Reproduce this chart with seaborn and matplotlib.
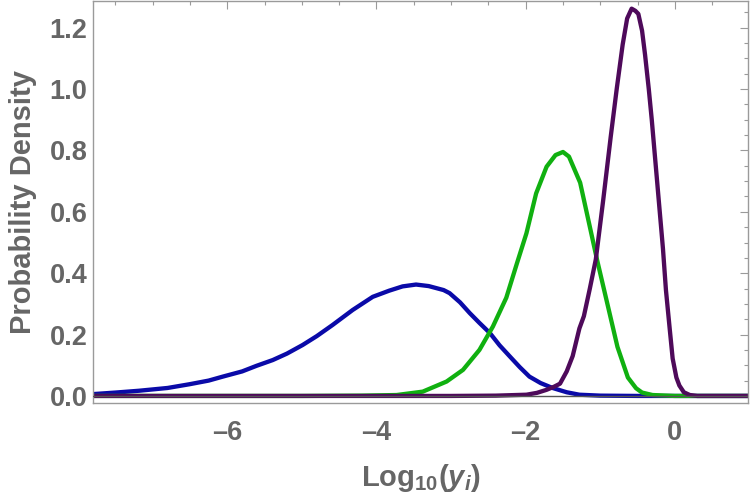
import numpy as np
import pandas as pd
import matplotlib
matplotlib.use("Agg")
import matplotlib.pyplot as plt
from matplotlib.ticker import MultipleLocator
import seaborn as sns

# ---- data ----
blue_x = [-7.8, -7.5, -7.18, -6.8, -6.51, -6.25, -6.06, -5.8, -5.61, -5.39, -5.2, -4.99,
          -4.8, -4.59, -4.32, -4.05, -3.83, -3.65, -3.47, -3.3, -3.1, -3.02, -2.88, -2.75,
          -2.62, -2.48, -2.35, -2.21, -2.08, -1.95, -1.8, -1.64, -1.45, -1.28, -1.0, -0.5,
          0.0, 1.0]
blue_y = [0.006, 0.011, 0.017, 0.026, 0.038, 0.050, 0.063, 0.080, 0.098, 0.117, 0.138, 0.166,
          0.195, 0.231, 0.280, 0.323, 0.343, 0.357, 0.363, 0.358, 0.345, 0.335, 0.305, 0.270,
          0.238, 0.205, 0.165, 0.128, 0.094, 0.063, 0.042, 0.026, 0.012, 0.004, 0.001, 0.0,
          0.0, 0.0]

green_x = [-7.8, -5.0, -4.2, -3.73, -3.38, -3.06, -2.84, -2.62, -2.44, -2.26, -2.12, -1.99,
           -1.86, -1.72, -1.6, -1.5, -1.42, -1.27, -1.13, -1.04, -0.90, -0.77, -0.63, -0.52,
           -0.44, -0.3, 0.0, 1.0]
green_y = [0.0, 0.0, 0.001, 0.003, 0.014, 0.047, 0.085, 0.150, 0.226, 0.320, 0.430, 0.530,
           0.660, 0.747, 0.785, 0.795, 0.780, 0.695, 0.540, 0.440, 0.295, 0.160, 0.060, 0.025,
           0.011, 0.003, 0.0, 0.0]

purple_x = [-7.8, -3.0, -2.4, -1.99, -1.85, -1.72, -1.62, -1.54, -1.45, -1.37, -1.28, -1.22,
            -1.14, -1.06, -0.96, -0.86, -0.78, -0.70, -0.64, -0.58, -0.53, -0.49, -0.44, -0.40,
            -0.35, -0.31, -0.26, -0.21, -0.16, -0.12, -0.07, -0.03, 0.02, 0.06, 0.12, 0.2,
            0.3, 1.0]
purple_y = [0.0, 0.0, 0.001, 0.004, 0.010, 0.020, 0.030, 0.040, 0.080, 0.130, 0.220, 0.260,
            0.350, 0.445, 0.640, 0.845, 1.000, 1.145, 1.230, 1.262, 1.255, 1.245, 1.190, 1.112,
            1.000, 0.900, 0.760, 0.620, 0.480, 0.345, 0.220, 0.122, 0.060, 0.034, 0.012, 0.003,
            0.0, 0.0]

series_names = ["blue", "green", "purple"]
series_colors = ["#0a0aa8", "#10b010", "#4e0a5a"]

x_ticks = [-6, -4, -2, 0]
y_ticks = [0.0, 0.2, 0.4, 0.6, 0.8, 1.0, 1.2]

frames = []
for name, xs, ys in zip(series_names, [blue_x, green_x, purple_x], [blue_y, green_y, purple_y]):
    frames.append(pd.DataFrame({"x": xs, "density": ys, "series": name}))
df = pd.concat(frames, ignore_index=True)

# ---- style ----
sns.set_style("white")
plt.rcParams["font.family"] = ["Liberation Sans", "DejaVu Sans"]
plt.rcParams["font.weight"] = "bold"
plt.rcParams["mathtext.fontset"] = "custom"
plt.rcParams["mathtext.rm"] = "Liberation Sans:bold"
plt.rcParams["mathtext.it"] = "Liberation Sans:bold:italic"
plt.rcParams["mathtext.bf"] = "Liberation Sans:bold"

fig = plt.figure(figsize=(7.5, 4.98), dpi=100)
ax = fig.add_axes([93 / 750, 1 - 403 / 498, (748 - 93) / 750, (403 - 1) / 498])

ax.axhline(0, color="#555555", lw=1.0, zorder=5)

sns.lineplot(data=df, x="x", y="density", hue="series", hue_order=series_names,
             palette=dict(zip(series_names, series_colors)), sort=False, estimator=None,
             legend=False, linewidth=3.1, ax=ax)
for ln in ax.lines:
    ln.set_solid_joinstyle("round")
    ln.set_solid_capstyle("round")

ax.set_xlim(-7.8, 0.98)
ax.set_ylim(-0.023, 1.287)

ax.xaxis.set_major_locator(MultipleLocator(2))
ax.xaxis.set_minor_locator(MultipleLocator(0.5))
ax.yaxis.set_major_locator(MultipleLocator(0.2))
ax.yaxis.set_minor_locator(MultipleLocator(0.05))
ax.set_xticks(x_ticks)
ax.set_xticklabels([f"\u2013{abs(v)}" if v < 0 else f"{v}" for v in x_ticks])
ax.set_yticks(y_ticks)
ax.set_yticklabels([f"{v:.1f}" for v in y_ticks])

spine_c = "#9a9a9a"
for s in ax.spines.values():
    s.set_visible(True)
    s.set_color(spine_c)
    s.set_linewidth(1.0)

ax.tick_params(which="both", direction="in", top=True, right=True, color=spine_c,
               labelcolor="#666666", labelsize=19.5, width=0.8)
ax.tick_params(which="major", length=5.5)
ax.tick_params(which="minor", length=3)
ax.tick_params(axis="x", pad=12)
ax.tick_params(axis="y", pad=4)
for lab in ax.get_xticklabels() + ax.get_yticklabels():
    lab.set_fontweight("bold")

ax.set_xlabel(r"Log$_{10}$($y_i$)", fontsize=21, color="#666666", fontweight="bold", labelpad=12)
ax.set_ylabel("Probability Density", fontsize=21, color="#666666", fontweight="bold", labelpad=9)

fig.savefig("out.png", dpi=100)
